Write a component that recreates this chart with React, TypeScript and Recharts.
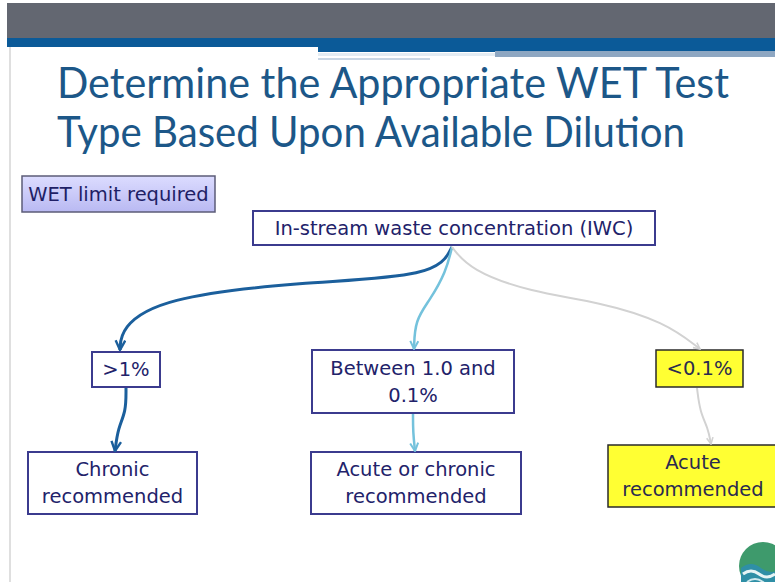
import { ComposedChart, XAxis, YAxis, Line, ReferenceArea, ReferenceDot, ReferenceLine } from "recharts";

// diagram coordinates (chart units, 0..775 x 0..582, y grows downward)
const bannerBands = [
  { x1: 7, x2: 775, y1: 3, y2: 38, fill: "#636771" },
  { x1: 7, x2: 775, y1: 38, y2: 47, fill: "#0b5a98" },
  { x1: 318, x2: 775, y1: 47, y2: 52, fill: "#0b5a98" },
  { x1: 318, x2: 495, y1: 53, y2: 56, fill: "#e4ecf3" },
  { x1: 495, x2: 775, y1: 51, y2: 57, fill: "#8ea7c2" },
  { x1: 318, x2: 430, y1: 58, y2: 60, fill: "#c9d6e4" },
];

const titleLines = ["Determine the Appropriate WET Test", "Type Based Upon Available Dilution"];
const titleWidths = [672, 628];

const nodes = [
  { id: "wet", lines: ["WET limit required"], x1: 22, x2: 215, y1: 176, y2: 212, kind: "lav" },
  { id: "iwc", lines: ["In-stream waste concentration (IWC)"], x1: 253, x2: 655, y1: 211, y2: 245, kind: "plain" },
  { id: "gt1", lines: [">1%"], x1: 92, x2: 160, y1: 352, y2: 387, kind: "plain" },
  { id: "mid", lines: ["Between 1.0 and", "0.1%"], x1: 312, x2: 514, y1: 350, y2: 413, kind: "plain" },
  { id: "lt01", lines: ["<0.1%"], x1: 656, x2: 743, y1: 350, y2: 387, kind: "yellow" },
  { id: "chronic", lines: ["Chronic", "recommended"], x1: 28, x2: 197, y1: 452, y2: 514, kind: "plain" },
  { id: "either", lines: ["Acute or chronic", "recommended"], x1: 311, x2: 521, y1: 452, y2: 514, kind: "plain" },
  { id: "acute", lines: ["Acute", "recommended"], x1: 608, x2: 778, y1: 445, y2: 507, kind: "yellow" },
];

const darkBranch = [
  { x: 452, y: 247 }, { x: 436, y: 277 }, { x: 300, y: 282 }, { x: 160, y: 298 }, { x: 121, y: 328 }, { x: 120, y: 350 },
];
const lightBranch = [
  { x: 452, y: 247 }, { x: 446, y: 272 }, { x: 430, y: 300 }, { x: 415, y: 320 }, { x: 414, y: 349 },
];
const grayBranch = [
  { x: 452, y: 247 }, { x: 470, y: 270 }, { x: 530, y: 292 }, { x: 600, y: 302 }, { x: 665, y: 322 }, { x: 700, y: 349 },
];
const darkStem = [
  { x: 126, y: 388 }, { x: 126, y: 412 }, { x: 118, y: 428 }, { x: 115, y: 451 },
];
const lightStem = [
  { x: 413, y: 414 }, { x: 413, y: 432 }, { x: 415, y: 451 },
];
const grayStem = [
  { x: 697, y: 388 }, { x: 700, y: 412 }, { x: 708, y: 428 }, { x: 711, y: 444 },
];

const logo = [{ x: 763, y: 566 }];

const boxStyle: Record<string, { fill: string; stroke: string; sw: number; text: string }> = {
  lav: { fill: "url(#lavGrad)", stroke: "#5c5c78", sw: 1.5, text: "#1f1f66" },
  plain: { fill: "#ffffff", stroke: "#3b3b8e", sw: 2, text: "#22226a" },
  yellow: { fill: "#ffff33", stroke: "#2a2a2a", sw: 1.5, text: "#2a2a50" },
};

const boxFont = "'DejaVu Sans', Verdana, sans-serif";

function boxLabel(lines: string[], color: string) {
  return (props: any) => {
    const vb = props.viewBox || {};
    const cx = vb.x + vb.width / 2;
    const cy = vb.y + vb.height / 2;
    const lh = 27;
    return (
      <g>
        {lines.map((t, i) => (
          <text
            key={i}
            x={cx}
            y={cy + (i - (lines.length - 1) / 2) * lh}
            textAnchor="middle"
            dominantBaseline="central"
            fontFamily={boxFont}
            fontSize={19.5}
            fill={color}
          >
            {t}
          </text>
        ))}
      </g>
    );
  };
}

function titleLabel(props: any) {
  const vb = props.viewBox || {};
  return (
    <g>
      {titleLines.map((t, i) => (
        <text
          key={i}
          x={vb.x}
          y={vb.y + 38 + i * 49}
          fontFamily="Lato, 'Open Sans', sans-serif"
          fontSize={42}
          fill="#1c5788"
          textLength={titleWidths[i]}
          lengthAdjust="spacingAndGlyphs"
        >
          {t}
        </text>
      ))}
    </g>
  );
}

function LogoShape(props: any) {
  const { cx, cy } = props;
  return (
    <g>
      <circle cx={cx} cy={cy} r={24} fill="#3e9a6c" />
      <path
        d={`M ${cx - 22} ${cy + 2} q 10 -8 20 0 t 22 0 L ${cx + 24} ${cy + 24} L ${cx - 22} ${cy + 24} Z`}
        fill="#2f8fa6"
      />
      <path d={`M ${cx - 20} ${cy + 8} q 8 -6 16 0 t 16 0`} stroke="#e6f4f5" strokeWidth={3} fill="none" />
      <path d={`M ${cx - 16} ${cy + 16} q 8 -6 16 0 t 16 0`} stroke="#cfe9ee" strokeWidth={2} fill="none" />
    </g>
  );
}

const connectors = [
  { data: darkBranch, color: "#1b5f9c", width: 3, marker: "url(#arrDark)" },
  { data: lightBranch, color: "#74c2dc", width: 2.5, marker: "url(#arrLight)" },
  { data: grayBranch, color: "#d2d2d2", width: 2, marker: "url(#arrGray)" },
  { data: darkStem, color: "#1b5f9c", width: 3, marker: "url(#arrDark)" },
  { data: lightStem, color: "#74c2dc", width: 2.5, marker: "url(#arrLight)" },
  { data: grayStem, color: "#d2d2d2", width: 2, marker: "url(#arrGray)" },
];

export default function App() {
  return (
    <div style={{ position: "absolute", left: 0, top: 0, width: 775, height: 582, background: "#ffffff" }}>
      <ComposedChart width={775} height={582} margin={{ top: 0, right: 0, bottom: 0, left: 0 }}>
        <defs>
          <linearGradient id="lavGrad" x1="0" y1="0" x2="0" y2="1">
            <stop offset="0%" stopColor="#dcdcff" />
            <stop offset="100%" stopColor="#b9b9f2" />
          </linearGradient>
          <marker id="arrDark" viewBox="0 0 10 10" refX="9" refY="5" markerWidth="4" markerHeight="4" orient="auto" markerUnits="strokeWidth">
            <path d="M 1 1 L 9 5 L 1 9" fill="none" stroke="#1b5f9c" strokeWidth={2} />
          </marker>
          <marker id="arrLight" viewBox="0 0 10 10" refX="9" refY="5" markerWidth="4" markerHeight="4" orient="auto" markerUnits="strokeWidth">
            <path d="M 1 1 L 9 5 L 1 9" fill="none" stroke="#74c2dc" strokeWidth={2} />
          </marker>
          <marker id="arrGray" viewBox="0 0 10 10" refX="9" refY="5" markerWidth="4" markerHeight="4" orient="auto" markerUnits="strokeWidth">
            <path d="M 1 1 L 9 5 L 1 9" fill="none" stroke="#d2d2d2" strokeWidth={2} />
          </marker>
        </defs>
        <XAxis type="number" dataKey="x" domain={[0, 775]} hide allowDataOverflow />
        <YAxis type="number" dataKey="y" domain={[0, 582]} reversed hide allowDataOverflow />

        {bannerBands.map((b, i) => (
          <ReferenceArea key={"b" + i} x1={b.x1} x2={b.x2} y1={b.y1} y2={b.y2} fill={b.fill} fillOpacity={1} stroke="none" ifOverflow="visible" />
        ))}
        <ReferenceLine segment={[{ x: 10, y: 47 }, { x: 10, y: 582 }]} stroke="#d4d4d4" strokeWidth={1.5} ifOverflow="visible" />

        <ReferenceArea x1={57} x2={740} y1={60} y2={160} fill="none" stroke="none" label={titleLabel} />

        {connectors.map((c, i) => (
          <Line
            key={"c" + i}
            data={c.data}
            dataKey="y"
            type="basis"
            stroke={c.color}
            strokeWidth={c.width}
            dot={false}
            activeDot={false}
            markerEnd={c.marker}
            isAnimationActive={false}
          />
        ))}

        {nodes.map((n) => {
          const s = boxStyle[n.kind];
          return (
            <ReferenceArea
              key={n.id}
              x1={n.x1}
              x2={n.x2}
              y1={n.y1}
              y2={n.y2}
              fill={s.fill}
              fillOpacity={1}
              stroke={s.stroke}
              strokeWidth={s.sw}
              ifOverflow="visible"
              label={boxLabel(n.lines, s.text)}
            />
          );
        })}

        <ReferenceDot x={logo[0].x} y={logo[0].y} r={24} ifOverflow="visible" shape={LogoShape} />
      </ComposedChart>
    </div>
  );
}
